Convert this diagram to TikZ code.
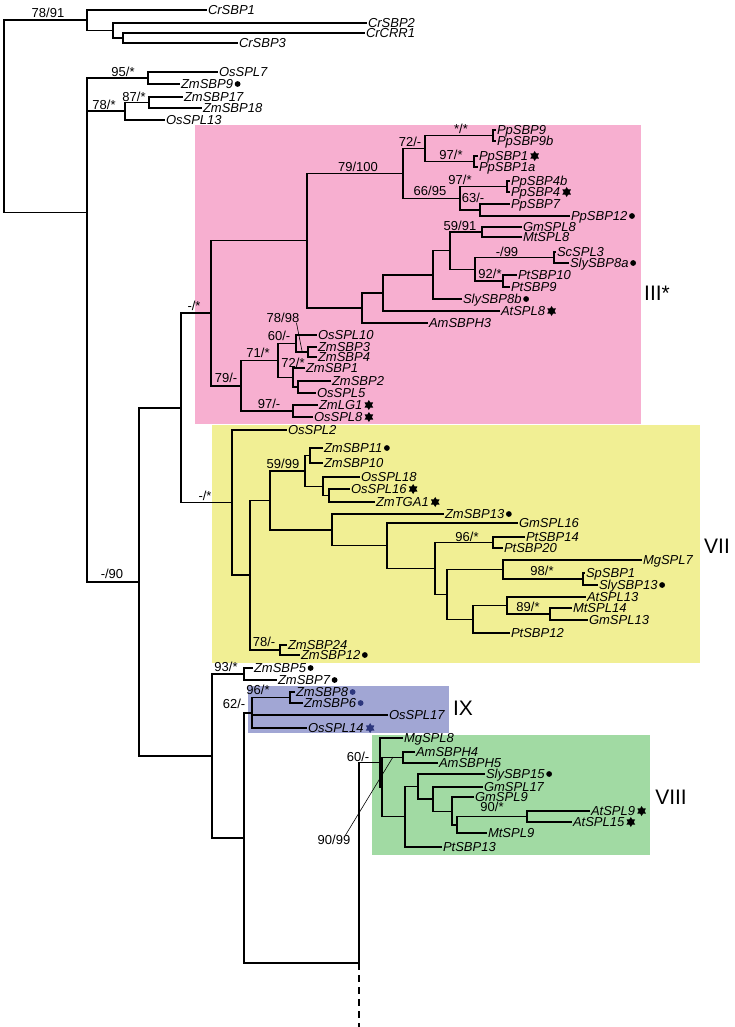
\documentclass[tikz,border=0pt]{standalone}
\usepackage{fontspec}
\setmainfont{Liberation Sans}
\usetikzlibrary{positioning, shapes.geometric}
\definecolor{pinkIII}{RGB}{247,175,208}
\definecolor{yellowVII}{RGB}{241,239,148}
\definecolor{blueIX}{RGB}{161,166,212}
\definecolor{greenVIII}{RGB}{161,218,163}
\definecolor{navy}{RGB}{45,55,125}
\tikzset{
  br/.style={line width=1.5pt},
  lead/.style={line width=0.6pt},
  leaf/.style={anchor=west, inner sep=0.8pt, font=\itshape\fontsize{13}{13}\selectfont, text height=9.2pt, text depth=0pt},
  bs/.style={inner sep=0pt, font=\fontsize{13}{13}\selectfont, text height=9.2pt, text depth=0pt},
  clade/.style={inner sep=0pt, font=\fontsize{21}{21}\selectfont, text height=15pt, text depth=0pt},
  starmk/.style={star, star points=6, star point ratio=1.7, fill=black, inner sep=0pt, minimum size=10pt},
}
% markers behind gene names
\newcommand{\dotat}[2][black]{\fill[#1] ([xshift=3.6pt]#2.east) circle (2.9pt);}
\newcommand{\starat}[2][black]{\node[starmk, fill=#1] (#2st) at ([xshift=5.5pt]#2.east) {};}

\begin{document}
\begin{tikzpicture}[x=1pt, y=-1pt]
\useasboundingbox (0,0) rectangle (734,1027);

% clade boxes
\fill[pinkIII] (195,125) rectangle (641,424);
\fill[yellowVII] (212,425) rectangle (700,663);
\fill[blueIX] (248,686) rectangle (449,733);
\fill[greenVIII] (372,735) rectangle (650,855);

% inner nodes
\coordinate (root) at (4,116.3);
\coordinate (crA) at (87,20.25);
\coordinate (crB) at (113,30.5);
\coordinate (crC) at (123,38);
\coordinate (ng) at (87,212.3);
\coordinate (ng2) at (87,346.6);
\coordinate (n95) at (148,78);
\coordinate (n78) at (125,111.25);
\coordinate (n87) at (149,102.5);
\coordinate (n139) at (139,581.9);
\coordinate (nE) at (181,407.9);
\coordinate (nP) at (211,313.2);
\coordinate (nF) at (307,240.7);
\coordinate (n79100) at (403,173.4);
\coordinate (n72) at (425,148.5);
\coordinate (nPp9) at (493,135.5);
\coordinate (nPp1) at (474,161.5);
\coordinate (n66) at (460,198.25);
\coordinate (nPp4) at (507,186.5);
\coordinate (n63) at (480,210);
\coordinate (nE2) at (362,308);
\coordinate (nD2) at (383,292.9);
\coordinate (nC2) at (433,274.8);
\coordinate (nB2) at (450,250.6);
\coordinate (n5991) at (482,232);
\coordinate (nA2) at (475,269.25);
\coordinate (n99) at (554,257.5);
\coordinate (n92) at (503,281);
\coordinate (n79) at (241,385.75);
\coordinate (n71) at (278,360.5);
\coordinate (n60) at (296,343.5);
\coordinate (n7898) at (308,352);
\coordinate (n72s) at (293,377.5);
\coordinate (nZm2) at (298,387);
\coordinate (n97) at (293,411);
\coordinate (nY) at (232,502.6);
\coordinate (nG) at (250,575.2);
\coordinate (n270) at (270,500.4);
\coordinate (n5999) at (305,470.9);
\coordinate (n1011) at (310,455.5);
\coordinate (n18) at (323,486.25);
\coordinate (n16) at (329,495.5);
\coordinate (n13) at (332,529.9);
\coordinate (n387) at (387,545.7);
\coordinate (n435) at (435,568.45);
\coordinate (n96y) at (493,542.5);
\coordinate (n447) at (447,594.4);
\coordinate (n503) at (503,569.5);
\coordinate (n98) at (583,579);
\coordinate (n473) at (473,619.25);
\coordinate (n89) at (507,605.5);
\coordinate (nMt) at (550,614);
\coordinate (n78y) at (280,650);
\coordinate (n212) at (212,755.9);
\coordinate (n93) at (244,674);
\coordinate (n244) at (244,837.9);
\coordinate (n62) at (252,712.75);
\coordinate (n96b) at (290,697.5);
\coordinate (n359) at (359,963);
\coordinate (ncut) at (359,1027);
\coordinate (n60g) at (380,762.7);
\coordinate (n9099) at (382,787.1);
\coordinate (nAm) at (403,757.5);
\coordinate (n405) at (405,816.7);
\coordinate (n418) at (418,786.7);
\coordinate (n433) at (433,799.1);
\coordinate (n452) at (452,811.6);
\coordinate (n457) at (457,824.8);
\coordinate (n9x) at (527,816.4);
\coordinate (tip7898) at (302,351);
\coordinate (tip9099) at (393,757);

% leaves
\node[leaf] (cr1) at (207,10) {CrSBP1};
\node[leaf] (cr2) at (367,23) {CrSBP2};
\node[leaf] (crr1) at (365,33) {CrCRR1};
\node[leaf] (cr3) at (238,43) {CrSBP3};
\node[leaf] (os7) at (218,72) {OsSPL7};
\node[leaf] (zm9) at (180,84) {ZmSBP9};
\node[leaf] (zm17) at (183,97) {ZmSBP17};
\node[leaf] (zm18) at (202,108) {ZmSBP18};
\node[leaf] (os13) at (165,120) {OsSPL13};
\node[leaf] (pp9) at (496,130) {PpSBP9};
\node[leaf] (pp9b) at (496,141) {PpSBP9b};
\node[leaf] (pp1) at (478,156) {PpSBP1};
\node[leaf] (pp1a) at (478,167) {PpSBP1a};
\node[leaf] (pp4b) at (510,181) {PpSBP4b};
\node[leaf] (pp4) at (510,192) {PpSBP4};
\node[leaf] (pp7) at (510,204) {PpSBP7};
\node[leaf] (pp12) at (570,216) {PpSBP12};
\node[leaf] (gm8) at (522,227) {GmSPL8};
\node[leaf] (mt8) at (522,237) {MtSPL8};
\node[leaf] (sc3) at (556,252) {ScSPL3};
\node[leaf] (sly8a) at (569,263) {SlySBP8a};
\node[leaf] (pt10) at (517,275) {PtSBP10};
\node[leaf] (pt9) at (510,287) {PtSBP9};
\node[leaf] (sly8b) at (462,299) {SlySBP8b};
\node[leaf] (at8) at (500,311) {AtSPL8};
\node[leaf] (am3) at (428,323) {AmSBPH3};
\node[leaf] (os10) at (317,335) {OsSPL10};
\node[leaf] (zm3) at (317,347) {ZmSBP3};
\node[leaf] (zm4) at (317,357) {ZmSBP4};
\node[leaf] (zm1) at (305,368) {ZmSBP1};
\node[leaf] (zm2) at (331,381) {ZmSBP2};
\node[leaf] (os5) at (316,393) {OsSPL5};
\node[leaf] (lg1) at (318,405) {ZmLG1};
\node[leaf] (os8) at (313,417) {OsSPL8};
\node[leaf] (os2) at (287,430) {OsSPL2};
\node[leaf] (zm11) at (323,448) {ZmSBP11};
\node[leaf] (zm10) at (323,463) {ZmSBP10};
\node[leaf] (os18) at (360,477) {OsSPL18};
\node[leaf] (os16) at (350,489) {OsSPL16};
\node[leaf] (tga1) at (375,502) {ZmTGA1};
\node[leaf] (zm13) at (444,514) {ZmSBP13};
\node[leaf] (gm16) at (518,523) {GmSPL16};
\node[leaf] (pt14) at (525,537) {PtSBP14};
\node[leaf] (pt20) at (503,548) {PtSBP20};
\node[leaf] (mg7) at (642,560) {MgSPL7};
\node[leaf] (sp1) at (585,573) {SpSBP1};
\node[leaf] (sly13) at (598,585) {SlySBP13};
\node[leaf] (at13) at (586,597) {AtSPL13};
\node[leaf] (mt14) at (572,608) {MtSPL14};
\node[leaf] (gm13) at (588,620) {GmSPL13};
\node[leaf] (pt12) at (510,633) {PtSBP12};
\node[leaf] (zm24) at (287,645) {ZmSBP24};
\node[leaf] (zm12) at (300,655) {ZmSBP12};
\node[leaf] (zm5) at (253,668) {ZmSBP5};
\node[leaf] (zm7) at (277,680) {ZmSBP7};
\node[leaf] (zm8) at (295,692) {ZmSBP8};
\node[leaf] (zm6) at (303,703) {ZmSBP6};
\node[leaf] (os17) at (388,715) {OsSPL17};
\node[leaf] (os14) at (307,728) {OsSPL14};
\node[leaf] (mg8) at (403,738) {MgSPL8};
\node[leaf] (am4) at (415,752) {AmSBPH4};
\node[leaf] (am5) at (438,763) {AmSBPH5};
\node[leaf] (sly15) at (485,774) {SlySBP15};
\node[leaf] (gm17) at (483,787) {GmSPL17};
\node[leaf] (gm9) at (474,797) {GmSPL9};
\node[leaf] (at9) at (590,811) {AtSPL9};
\node[leaf] (at15) at (572,822) {AtSPL15};
\node[leaf] (mt9) at (487,833) {MtSPL9};
\node[leaf] (pt13) at (442,847) {PtSBP13};

% branches
\draw[br] (root) |- (crA) (root) |- (ng)
  (crA) |- (cr1.west) (crA) |- (crB)
  (crB) |- (cr2.west) (crB) |- (crC)
  (crC) |- (crr1.west) (crC) |- (cr3.west)
  (ng) |- (n95) (ng) |- (ng2)
  (n95) |- (os7.west) (n95) |- (zm9.west)
  (ng2) |- (n78) (ng2) |- (n139)
  (n78) |- (n87) (n78) |- (os13.west)
  (n87) |- (zm17.west) (n87) |- (zm18.west)
  (n139) |- (nE) (n139) |- (n212)
  (nE) |- (nP) (nE) |- (nY);
% III*
\draw[br] (nP) |- (nF) (nP) |- (n79)
  (nF) |- (n79100) (nF) |- (nE2)
  (n79100) |- (n72) (n79100) |- (n66)
  (n72) |- (nPp9) (n72) |- (nPp1)
  (nPp9) |- (pp9.west) (nPp9) |- (pp9b.west)
  (nPp1) |- (pp1.west) (nPp1) |- (pp1a.west)
  (n66) |- (nPp4) (n66) |- (n63)
  (nPp4) |- (pp4b.west) (nPp4) |- (pp4.west)
  (n63) |- (pp7.west) (n63) |- (pp12.west)
  (nE2) |- (nD2) (nE2) |- (am3.west)
  (nD2) |- (nC2) (nD2) |- (at8.west)
  (nC2) |- (nB2) (nC2) |- (sly8b.west)
  (nB2) |- (n5991) (nB2) |- (nA2)
  (n5991) |- (gm8.west) (n5991) |- (mt8.west)
  (nA2) |- (n99) (nA2) |- (n92)
  (n99) |- (sc3.west) (n99) |- (sly8a.west)
  (n92) |- (pt10.west) (n92) |- (pt9.west)
  (n79) |- (n71) (n79) |- (n97)
  (n71) |- (n60) (n71) |- (n72s)
  (n60) |- (os10.west) (n60) |- (n7898)
  (n7898) |- (zm3.west) (n7898) |- (zm4.west)
  (n72s) |- (zm1.west) (n72s) |- (nZm2)
  (nZm2) |- (zm2.west) (nZm2) |- (os5.west)
  (n97) |- (lg1.west) (n97) |- (os8.west);
% VII
\draw[br] (nY) |- (os2.west) (nY) |- (nG)
  (nG) |- (n270) (nG) |- (n78y)
  (n270) |- (n5999) (n270) |- (n13)
  (n5999) |- (n1011) (n5999) |- (n18)
  (n1011) |- (zm11.west) (n1011) |- (zm10.west)
  (n18) |- (os18.west) (n18) |- (n16)
  (n16) |- (os16.west) (n16) |- (tga1.west)
  (n13) |- (zm13.west) (n13) |- (n387)
  (n387) |- (gm16.west) (n387) |- (n435)
  (n435) |- (n96y) (n435) |- (n447)
  (n96y) |- (pt14.west) (n96y) |- (pt20.west)
  (n447) |- (n503) (n447) |- (n473)
  (n503) |- (mg7.west) (n503) |- (n98)
  (n98) |- (sp1.west) (n98) |- (sly13.west)
  (n473) |- (n89) (n473) |- (pt12.west)
  (n89) |- (at13.west) (n89) |- (nMt)
  (nMt) |- (mt14.west) (nMt) |- (gm13.west)
  (n78y) |- (zm24.west) (n78y) |- (zm12.west);
% IX, VIII and the rest
\draw[br] (n212) |- (n93) (n212) |- (n244)
  (n93) |- (zm5.west) (n93) |- (zm7.west)
  (n244) |- (n62) (n244) |- (n359)
  (n62) |- (n96b) (n62) |- (os17.west) (n62) |- (os14.west)
  (n96b) |- (zm8.west) (n96b) |- (zm6.west)
  (n359) |- (n60g)
  (n60g) |- (mg8.west) (n60g) |- (n9099)
  (n9099) |- (nAm) (n9099) |- (n405)
  (nAm) |- (am4.west) (nAm) |- (am5.west)
  (n405) |- (n418) (n405) |- (pt13.west)
  (n418) |- (sly15.west) (n418) |- (n433)
  (n433) |- (gm17.west) (n433) |- (n452)
  (n452) |- (gm9.west) (n452) |- (n457)
  (n457) |- (n9x) (n457) |- (mt9.west)
  (n9x) |- (at9.west) (n9x) |- (at15.west);
\draw[br, dash pattern=on 7pt off 5pt] (n359) -- (ncut);

% markers
\dotat{zm9} \dotat{pp12} \dotat{sly8a} \dotat{sly8b}
\dotat{zm11} \dotat{zm13} \dotat{sly13} \dotat{zm12}
\dotat{zm5} \dotat{zm7} \dotat[navy]{zm8} \dotat[navy]{zm6}
\dotat{sly15}
\starat{pp1} \starat{pp4} \starat{at8} \starat{lg1} \starat{os8}
\starat{os16} \starat{tga1} \starat[navy]{os14} \starat{at9} \starat{at15}

% support values
\node[bs] (b7891) at (48,13) {78/91};
\node[bs] (b95) at (123,72) {95/*};
\node[bs] (b78) at (104,105) {78/*};
\node[bs] (b87) at (134,97) {87/*};
\node[bs] (b79100) at (358,167) {79/100};
\node[bs] (b72) at (410,142) {72/-};
\node[bs] (bss) at (461,129) {*/*};
\node[bs] (b97a) at (451,155) {97/*};
\node[bs] (b97b) at (460,179.5) {97/*};
\node[bs] (b6695) at (430,191) {66/95};
\node[bs] (b63) at (473,197.5) {63/-};
\node[bs] (b5991) at (460,226) {59/91};
\node[bs] (b99) at (507,252) {-/99};
\node[bs] (b92) at (490,273.5) {92/*};
\node[bs] (b7898) at (283,318) {78/98};
\node[bs] (b60) at (279,336) {60/-};
\node[bs] (b71) at (258,353) {71/*};
\node[bs] (b72s) at (293,363) {72/*};
\node[bs] (b79) at (226,378) {79/-};
\node[bs] (b97c) at (269,404) {97/-};
\node[bs] (bP) at (194,306) {-/*};
\node[bs] (bY) at (205,495.5) {-/*};
\node[bs] (b90) at (112,574) {-/90};
\node[bs] (b5999) at (283,464) {59/99};
\node[bs] (b96y) at (467,537) {96/*};
\node[bs] (b98) at (542,570.5) {98/*};
\node[bs] (b89) at (528,607) {89/*};
\node[bs] (b78y) at (264,642) {78/-};
\node[bs] (b93) at (226,667) {93/*};
\node[bs] (b62) at (234,703.5) {62/-};
\node[bs] (b96b) at (258,690) {96/*};
\node[bs] (b60g) at (358,757) {60/-};
\node[bs] (b9099) at (334,840) {90/99};
\node[bs] (b90g) at (492,807) {90/*};
\draw[lead] ([xshift=-3pt]b7898.south east) -- (tip7898);
\draw[lead] ([xshift=-5pt]b9099.north east) -- (tip9099);

% clade names
\node[clade] (cIII) at (657,293) {III*};
\node[clade] (cVII) at (717,546) {VII};
\node[clade] (cIX) at (463,707.5) {IX};
\node[clade] (cVIII) at (671,797) {VIII};
\end{tikzpicture}
\end{document}
